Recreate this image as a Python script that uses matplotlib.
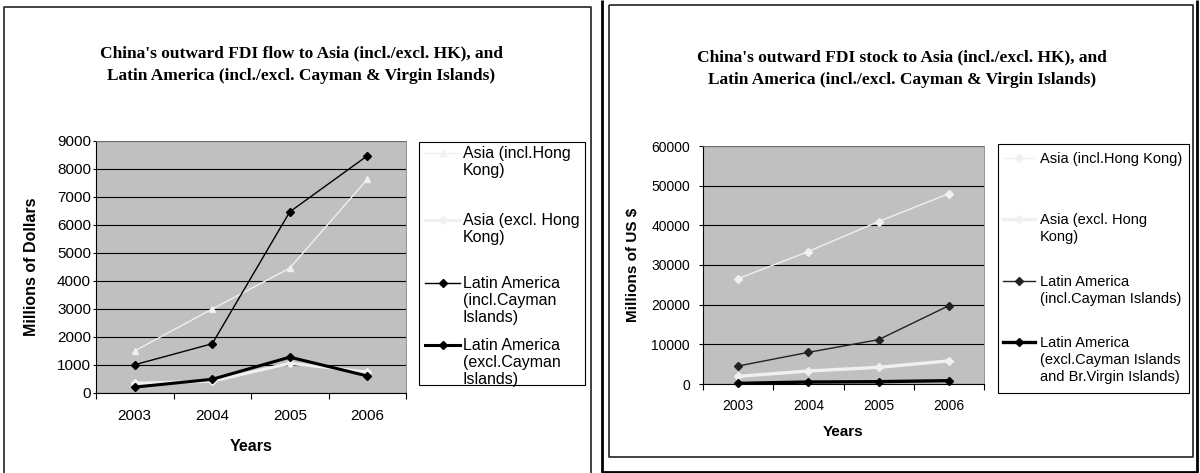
import matplotlib.pyplot as plt
from matplotlib.patches import Rectangle
from matplotlib.lines import Line2D

plt.rcParams["font.family"] = ["Liberation Sans", "DejaVu Sans"]

W, H = 1200, 473

years = ["2003", "2004", "2005", "2006"]

# outward FDI flow, millions of US$
flow_asia_incl_hk = [1505, 3000, 4460, 7630]
flow_asia_excl_hk = [350, 420, 1060, 750]
flow_latam_incl_cayman = [1010, 1760, 6470, 8470]
flow_latam_excl_cayman = [210, 490, 1280, 610]

# outward FDI stock, millions of US$
stock_asia_incl_hk = [26560, 33400, 40960, 47980]
stock_asia_excl_hk = [1930, 3280, 4200, 5830]
stock_latam_incl_cayman = [4540, 7980, 11180, 19750]
stock_latam_excl_cayman = [170, 500, 590, 840]

flow_labels = ["Asia (incl.Hong\nKong)", "Asia (excl. Hong\nKong)",
               "Latin America\n(incl.Cayman\nIslands)", "Latin America\n(excl.Cayman\nIslands)"]
stock_labels = ["Asia (incl.Hong Kong)", "Asia (excl. Hong\nKong)",
                "Latin America\n(incl.Cayman Islands)",
                "Latin America\n(excl.Cayman Islands\nand Br.Virgin Islands)"]

flow_title = ("China's outward FDI flow to Asia (incl./excl. HK), and\n"
              "Latin America (incl./excl. Cayman & Virgin Islands)")
stock_title = ("China's outward FDI stock to Asia (incl./excl. HK), and\n"
               "Latin America (incl./excl. Cayman & Virgin Islands)")

LIGHT = "#F0F0F0"
flow_styles = [dict(color=LIGHT, lw=1.0, marker="^", ms=5),
               dict(color=LIGHT, lw=2.2, marker="D", ms=3.8),
               dict(color="black", lw=1.0, marker="D", ms=4),
               dict(color="black", lw=2.2, marker="D", ms=4)]
stock_styles = [dict(color=LIGHT, lw=1.0, marker="D", ms=3.6),
                dict(color=LIGHT, lw=2.4, marker="D", ms=3.6),
                dict(color="#222222", lw=1.0, marker="D", ms=3.6),
                dict(color="black", lw=2.4, marker="D", ms=3.6)]


def fx(x):
    return x / W


def fy(y):
    return 1 - y / H


fig = plt.figure(figsize=(W / 100, H / 100), dpi=100)
fig.patch.set_facecolor("white")


def frame_line(xs, ys, lw, color):
    fig.add_artist(Line2D([fx(v) for v in xs], [fy(v) for v in ys],
                          transform=fig.transFigure, color=color, lw=lw,
                          solid_capstyle="butt"))


# panel borders
frame_line([4, 4, 591, 591], [480, 7, 7, 480], 1.3, "#333333")
frame_line([609, 609, 1193, 1193, 609], [5, 457, 457, 5, 5], 1.3, "#333333")
frame_line([602, 602, 1197, 1197], [0, 472, 472, 0], 2.0, "black")


def draw_chart(rect, series, styles, ymax, ystep, tick_fs, tick_pad_x, ytick_len, ytick_pad):
    ax = fig.add_axes([fx(rect[0]), fy(rect[3]), (rect[2] - rect[0]) / W, (rect[3] - rect[1]) / H])
    ax.set_facecolor("#C0C0C0")
    x = range(len(years))
    for vals, st in zip(series, styles):
        ax.plot(x, vals, color=st["color"], lw=st["lw"], marker=st["marker"], ms=st["ms"],
                mfc=st["color"], mec=st["color"], clip_on=False, zorder=3)
    ax.set_xlim(-0.5, len(years) - 0.5)
    ax.set_ylim(0, ymax)
    ax.set_yticks(range(0, ymax + 1, ystep))
    ax.set_xticks(list(x), years)
    ax.set_xticks([i - 0.5 for i in range(len(years) + 1)], minor=True)
    ax.tick_params(axis="x", which="major", length=0, pad=tick_pad_x, labelsize=tick_fs)
    ax.tick_params(axis="x", which="minor", length=4, width=0.8, direction="out")
    ax.tick_params(axis="y", length=ytick_len, width=0.8, pad=ytick_pad, labelsize=tick_fs)
    ax.yaxis.grid(True, color="black", lw=0.8)
    ax.set_axisbelow(True)
    for s in ["left", "bottom"]:
        ax.spines[s].set_color("black")
        ax.spines[s].set_linewidth(0.8)
    for s in ["top", "right"]:
        ax.spines[s].set_color("#808080")
        ax.spines[s].set_linewidth(0.6)
    return ax


def draw_legend(box, labels, styles, hx, tx, rows, fs, spacing):
    x0, y0, x1, y1 = box
    fig.add_artist(Rectangle((fx(x0), fy(y1)), (x1 - x0) / W, (y1 - y0) / H,
                             transform=fig.transFigure, facecolor="white",
                             edgecolor="black", lw=0.8))
    em = fs * 100 / 72
    for label, st, yr in zip(labels, styles, rows):
        fig.add_artist(Line2D([fx(hx[0]), fx(hx[1])], [fy(yr), fy(yr)],
                              transform=fig.transFigure, color=st["color"], lw=st["lw"]))
        fig.add_artist(Line2D([fx((hx[0] + hx[1]) / 2)], [fy(yr)], transform=fig.transFigure,
                              marker=st["marker"], ms=st["ms"], mfc=st["color"],
                              mec=st["color"], lw=0))
        # top of the first text line sits a little above the handle
        fig.text(fx(tx), fy(yr - 0.42 * em), label, fontsize=fs, va="top", ha="left",
                 linespacing=spacing)


# flow chart
ax1 = draw_chart((96, 141, 406, 393),
                 [flow_asia_incl_hk, flow_asia_excl_hk, flow_latam_incl_cayman, flow_latam_excl_cayman],
                 flow_styles, 9000, 1000, 11, 11.5, 2.2, 1.4)
fig.text(fx(301), fy(64.5), flow_title, fontsize=12.5, fontweight="bold", family="Liberation Serif",
         ha="center", va="center", linespacing=1.5)
fig.text(fx(32), fy(267), "Millions of Dollars", fontsize=11.5, fontweight="bold",
         rotation=90, ha="center", va="center")
fig.text(fx(251), fy(446), "Years", fontsize=11.5, fontweight="bold", ha="center", va="center")
draw_legend((419, 142, 585, 385), flow_labels, flow_styles, (425, 460), 463,
            [153, 220, 283, 345], 11.5, 1.15)

# stock chart
ax2 = draw_chart((703, 146, 984, 384),
                 [stock_asia_incl_hk, stock_asia_excl_hk, stock_latam_incl_cayman, stock_latam_excl_cayman],
                 stock_styles, 60000, 10000, 10, 11, 2.9, 6.5)
fig.text(fx(902), fy(68.5), stock_title, fontsize=12.5, fontweight="bold", family="Liberation Serif",
         ha="center", va="center", linespacing=1.5)
fig.text(fx(633), fy(265), "Millions of US $", fontsize=11, fontweight="bold",
         rotation=90, ha="center", va="center")
fig.text(fx(843), fy(432), "Years", fontsize=11, fontweight="bold", ha="center", va="center")
draw_legend((998, 144, 1189, 393), stock_labels, stock_styles, (1003, 1035), 1040,
            [158, 219, 281, 342], 10.5, 1.3)

fig.savefig("out.png", dpi=100)
